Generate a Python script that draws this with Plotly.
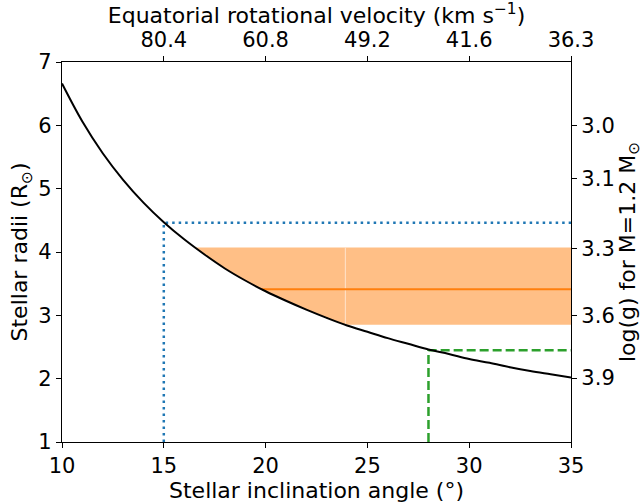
import numpy as np
import plotly.graph_objects as go

# Stellar inclination angle (deg) and radius (R_sun)
incl = [10, 11, 12, 13, 14, 15, 16, 17, 18, 19, 20, 21, 22, 23, 24, 25,
        26, 27, 28, 29, 30, 31, 32, 33, 34, 35]
radius = [6.66, 6.06, 5.56, 5.14, 4.78, 4.47, 4.20, 3.96, 3.74, 3.55, 3.38,
          3.23, 3.09, 2.96, 2.84, 2.74, 2.64, 2.55, 2.46, 2.39, 2.31, 2.25,
          2.18, 2.12, 2.07, 2.02]

# Top axis: rotational velocity labels
top_tickvals = [15, 20, 25, 30, 35]
top_ticktext = ["80.4", "60.8", "49.2", "41.6", "36.3"]

# Right axis: log(g) labels at radius positions
logg_tickvals = [6.0, 5.155, 4.05, 3.0, 2.01]
logg_ticktext = ["3.0", "3.1", "3.3", "3.6", "3.9"]

# Orange band (radius range) and central value
band_lo = 2.85
band_hi = 4.07
band_mid = 3.41

# Reference markers
blue_i, blue_r = 15, 4.46
green_i, green_r = 28, 2.45

x_max = 35

ix = np.array(incl, dtype=float)
ry = np.array(radius, dtype=float)
x_hi = float(np.interp(band_hi, ry[::-1], ix[::-1]))
x_lo = float(np.interp(band_lo, ry[::-1], ix[::-1]))
x_mid = float(np.interp(band_mid, ry[::-1], ix[::-1]))

fill_col = "rgba(255,191,134,1)"
fig = go.Figure()

inner = ix[(ix > x_hi) & (ix < x_lo)]
seg_x = [x_hi] + list(inner) + [x_lo, x_lo, x_hi]
seg_y = [band_hi] + list(np.interp(inner, ix, ry)) + [band_lo, band_hi, band_hi]
fig.add_trace(go.Scatter(x=seg_x, y=seg_y, fill="toself", fillcolor=fill_col,
                         line=dict(width=0), mode="lines", hoverinfo="skip",
                         showlegend=False))
fig.add_trace(go.Scatter(x=[x_lo, x_max, x_max, x_lo, x_lo],
                         y=[band_lo, band_lo, band_hi, band_hi, band_lo],
                         fill="toself", fillcolor=fill_col,
                         line=dict(width=0), mode="lines", hoverinfo="skip",
                         showlegend=False))
fig.add_trace(go.Scatter(x=[x_lo, x_lo], y=[band_lo, band_hi], mode="lines",
                         line=dict(color="rgba(255,225,200,1)", width=1),
                         hoverinfo="skip", showlegend=False))
fig.add_trace(go.Scatter(x=[x_mid, x_max], y=[band_mid, band_mid], mode="lines",
                         line=dict(color="#ff7f0e", width=2), showlegend=False))

fig.add_trace(go.Scatter(x=[blue_i, blue_i, x_max], y=[1, blue_r, blue_r],
                         mode="lines", line=dict(color="#1f77b4", width=2.5, dash="2.5px,4px"),
                         showlegend=False))
fig.add_trace(go.Scatter(x=[green_i, green_i, x_max], y=[1, green_r, green_r],
                         mode="lines", line=dict(color="#2ca02c", width=2.5, dash="9px,4px"),
                         showlegend=False))

fig.add_trace(go.Scatter(x=incl, y=radius, mode="lines",
                         line=dict(color="black", width=2, shape="spline"),
                         showlegend=False))

fig.add_trace(go.Scatter(x=[10, 35], y=[1, 7], xaxis="x2", yaxis="y2",
                         mode="markers", marker=dict(opacity=0), showlegend=False,
                         hoverinfo="skip"))

font = dict(family="DejaVu Sans", size=22, color="black")
tick_font = dict(family="DejaVu Sans", size=21, color="black")
axis_common = dict(showline=True, linecolor="black", linewidth=1.3, ticks="outside",
                   ticklen=5, tickwidth=1.3, tickcolor="black", showgrid=False,
                   zeroline=False, tickfont=tick_font, automargin=False)

fig.update_layout(
    width=644, height=502,
    margin=dict(l=62, r=73, t=62, b=60),
    plot_bgcolor="white", paper_bgcolor="white",
    font=font,
    xaxis=dict(range=[10, 35], tickvals=[10, 15, 20, 25, 30, 35],
               **axis_common),
    yaxis=dict(range=[1, 7], tickvals=[1, 2, 3, 4, 5, 6, 7],
               title=dict(text="Stellar radii (R<sub>⊙</sub>)", font=font, standoff=4),
               **axis_common),
    xaxis2=dict(range=[10, 35], overlaying="x", side="top",
                tickvals=top_tickvals, ticktext=top_ticktext,
                title=dict(text="Equatorial rotational velocity (km s<sup>−1</sup>)",
                           font=font, standoff=2),
                **axis_common),
    yaxis2=dict(range=[1, 7], overlaying="y", side="right",
                tickvals=logg_tickvals, ticktext=logg_ticktext,
                title=dict(text="log(g) for M=1.2 M<sub>⊙</sub>", font=font, standoff=4),
                **axis_common),
    annotations=[dict(text="Stellar inclination angle (°)", xref="paper", yref="paper",
                      x=0.5, y=0, xanchor="center", yanchor="middle", yshift=-48,
                      showarrow=False, font=font)],
)

fig.write_html("out.html")
